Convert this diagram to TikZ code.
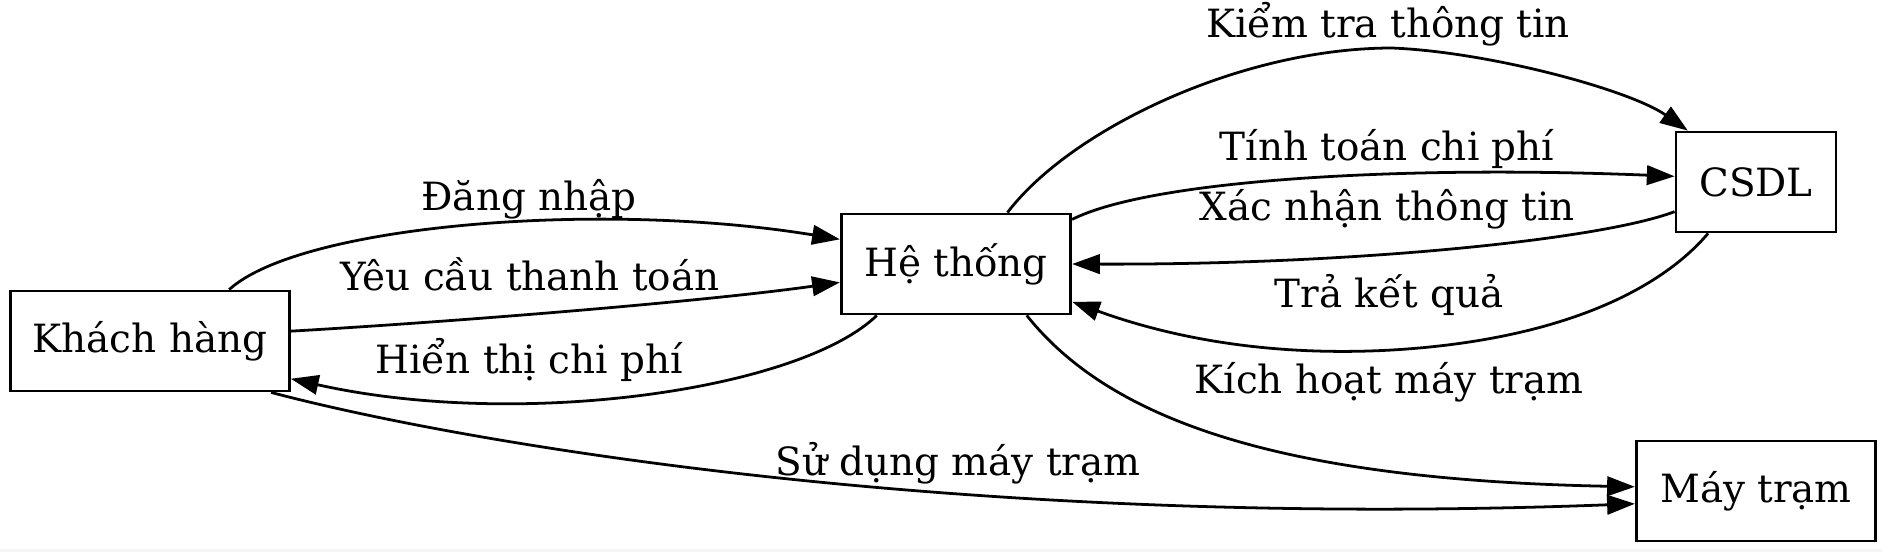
\documentclass[tikz,border=0pt]{standalone}
\usepackage{fontspec}
\setmainfont{DejaVu Serif}
\usetikzlibrary{arrows.meta}
\tikzset{
  box/.style={draw, line width=1pt, minimum height=36pt, inner sep=0pt, font=\fontsize{14pt}{16pt}\selectfont},
  edge/.style={draw, line width=1pt, -{Triangle[length=10pt,width=7pt]}},
  lbl/.style={inner sep=0pt, font=\fontsize{14pt}{16pt}\selectfont}
}
\begin{document}
\begin{tikzpicture}[x=0.36pt,y=-0.36pt]
\useasboundingbox (0,0) rectangle (1882,552);
\fill[gray!8] (0,549) rectangle (1882,552);
% nodes
\node[box, minimum width=100.4pt] (kh) at (150,341) {Khách hàng};
\node[box, minimum width=82.6pt] (ht) at (956,264) {Hệ thống};
\node[box, minimum width=57.6pt] (cs) at (1756,182) {CSDL};
\node[box, minimum width=86.2pt] (mt) at (1756,491) {Máy trạm};
% edges
\path[edge] (kh.33) .. controls (300,225) and (600,200) .. (ht.168);
\path[edge] (kh.4) .. controls (450,322) and (700,302) .. (ht.189);
\path[edge] (ht.213) .. controls (800,390) and (520,430) .. (kh.-15);
\path[edge] (kh.-23) .. controls (450,440) and (950,530) .. (mt.186);
\path[edge] (ht.45) .. controls (1070,130) and (1240,48) .. (1392,48) .. controls (1490,52) and (1630,90) .. (cs.143);
\path[edge] (ht.21) .. controls (1150,180) and (1400,165) .. (cs.176);
\path[edge] (cs.200) .. controls (1600,240) and (1350,265) .. (ht.0);
\path[edge] (cs.227) .. controls (1660,290) and (1560,340) .. (1392,350) .. controls (1250,358) and (1150,330) .. (ht.-18);
\path[edge] (ht.-36) .. controls (1110,420) and (1280,480) .. (mt.178);
% labels
\node[lbl] (l1) at (529,199) {Đăng nhập};
\node[lbl] (l2) at (530,274) {Yêu cầu thanh toán};
\node[lbl] (l3) at (529,360) {Hiển thị chi phí};
\node[lbl] (l4) at (958,463) {Sử dụng máy trạm};
\node[lbl] (l5) at (1388,24) {Kiểm tra thông tin};
\node[lbl] (l6) at (1387,149) {Tính toán chi phí};
\node[lbl] (l7) at (1387,209) {Xác nhận thông tin};
\node[lbl] (l8) at (1389,295) {Trả kết quả};
\node[lbl] (l9) at (1389,382) {Kích hoạt máy trạm};
\end{tikzpicture}
\end{document}
